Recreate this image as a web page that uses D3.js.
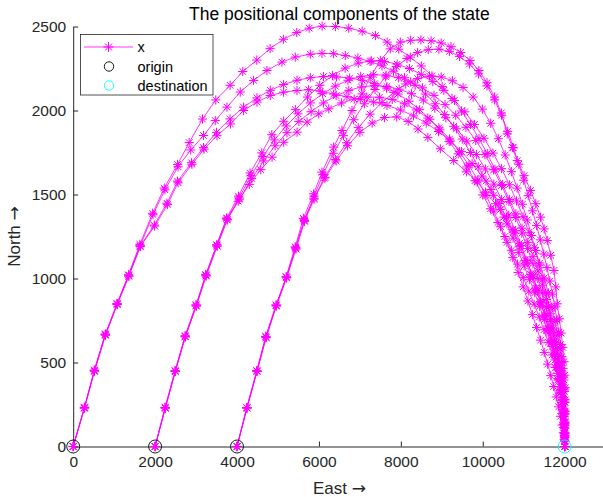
<!DOCTYPE html>
<html>
<head>
<meta charset="utf-8">
<script src="https://cdn.jsdelivr.net/npm/d3@7"></script>
<style>
  body { margin: 0; background: #fff; }
  text { font-family: "Liberation Sans", Arial, sans-serif; }
</style>
</head>
<body>
<script>
// trajectories [east, north]
const trackA1 = [[0,0],[270,230],[519,452],[787,667],[1068,850],[1350,1022],[1628,1203],[1940,1388],[2223,1538],[2548,1679],[2832,1809],[3157,1949],[3481,2063],[3832,2150],[4140,2232],[4483,2300],[4808,2368],[5132,2424],[5458,2464],[5762,2490],[6078,2502],[6403,2500],[6728,2490],[7055,2472],[7380,2446],[7666,2407],[7950,2365],[8230,2318],[8500,2265],[8760,2206],[9010,2142],[9250,2072],[9480,1997],[9700,1917],[9910,1832],[10110,1743],[10300,1650],[10480,1560],[10650,1470],[10810,1385],[10960,1300],[11100,1215],[11230,1130],[11350,1045],[11460,960],[11560,875],[11650,790],[11730,705],[11800,620],[11860,535],[11910,450],[11945,370],[11970,290],[11985,210],[11995,135],[12000,65],[12000,0]];
const trackA2 = [[0,0],[273,228],[522,448],[790,662],[1072,845],[1358,1015],[1635,1195],[1950,1380],[2240,1528],[2560,1665],[2870,1765],[3183,1851],[3469,1940],[3754,2020],[4079,2110],[4404,2179],[4731,2238],[5097,2288],[5423,2318],[5789,2335],[6075,2340],[6359,2338],[6644,2327],[6950,2312],[7250,2292],[7540,2266],[7820,2234],[8090,2195],[8350,2150],[8600,2098],[8840,2040],[9070,1976],[9290,1906],[9500,1830],[9700,1750],[9890,1665],[10080,1580],[10260,1495],[10430,1410],[10590,1325],[10740,1240],[10880,1155],[11010,1075],[11140,995],[11270,915],[11390,835],[11500,755],[11600,675],[11690,595],[11765,515],[11830,435],[11885,355],[11930,275],[11962,200],[11985,130],[11997,65],[12000,0]];
const trackA3 = [[0,0],[277,234],[516,455],[784,670],[1075,850],[1352,1020],[1634,1192],[1980,1318],[2288,1448],[2548,1579],[2889,1689],[3181,1779],[3500,1870],[3830,1950],[4160,2020],[4487,2075],[4812,2120],[5137,2155],[5464,2180],[5790,2195],[6110,2202],[6430,2200],[6750,2193],[7060,2180],[7360,2160],[7650,2133],[7930,2098],[8200,2055],[8460,2005],[8710,1948],[8950,1885],[9180,1816],[9400,1742],[9610,1664],[9810,1582],[10000,1497],[10190,1415],[10370,1333],[10540,1250],[10700,1168],[10850,1086],[10990,1005],[11125,925],[11255,847],[11380,770],[11495,695],[11600,620],[11695,545],[11775,470],[11840,395],[11895,320],[11938,248],[11968,178],[11987,112],[11997,52],[12000,0]];
const trackA4 = [[0,0],[280,231],[514,450],[782,665],[1078,846],[1360,1014],[1640,1190],[1990,1312],[2300,1440],[2560,1570],[2900,1680],[3195,1770],[3510,1850],[3840,1920],[4160,2000],[4487,2050],[4812,2089],[5137,2109],[5464,2119],[5748,2124],[6033,2115],[6359,2098],[6685,2082],[7010,2068],[7336,2050],[7662,2030],[7990,2003],[8310,1968],[8620,1925],[8920,1875],[9210,1818],[9480,1755],[9740,1685],[9980,1610],[10200,1530],[10400,1447],[10580,1362],[10745,1277],[10895,1192],[11035,1108],[11165,1025],[11290,943],[11405,862],[11510,782],[11605,703],[11690,625],[11765,548],[11830,472],[11885,397],[11930,323],[11963,250],[11985,180],[11997,112],[12002,52],[12000,0]];
const trackB1 = [[2000,0],[2245,232],[2490,450],[2735,657],[3002,842],[3238,1021],[3508,1199],[3750,1360],[4035,1490],[4320,1628],[4605,1748],[4850,1856],[5138,1936],[5425,2005],[5720,2080],[6020,2150],[6330,2208],[6640,2252],[6960,2282],[7280,2295],[7600,2292],[7910,2276],[8210,2250],[8500,2215],[8780,2172],[9050,2120],[9310,2060],[9560,1992],[9800,1917],[10030,1835],[10250,1747],[10460,1654],[10650,1558],[10825,1462],[10985,1368],[11130,1275],[11265,1183],[11390,1092],[11500,1003],[11600,915],[11688,830],[11765,745],[11832,662],[11888,580],[11935,500],[11970,420],[11993,342],[12005,265],[12008,192],[12005,125],[12002,62],[12000,0]];
const trackB2 = [[2000,0],[2249,228],[2493,446],[2738,653],[3006,836],[3244,1015],[3512,1193],[3758,1350],[4050,1480],[4340,1612],[4630,1726],[4910,1825],[5200,1908],[5490,1980],[5790,2045],[6090,2100],[6400,2145],[6710,2180],[7020,2203],[7330,2213],[7640,2210],[7940,2195],[8240,2170],[8530,2135],[8810,2090],[9080,2035],[9340,1972],[9590,1900],[9830,1822],[10055,1737],[10265,1647],[10460,1553],[10640,1458],[10805,1363],[10955,1270],[11095,1178],[11225,1088],[11345,1000],[11455,913],[11555,828],[11645,745],[11725,663],[11795,583],[11855,505],[11905,428],[11945,353],[11975,280],[11995,210],[12004,145],[12003,85],[12000,35],[12000,0]];
const trackB3 = [[2000,0],[2244,233],[2489,451],[2733,659],[3001,843],[3236,1023],[3505,1201],[3748,1358],[4060,1472],[4360,1595],[4650,1700],[4930,1790],[5220,1868],[5510,1935],[5810,1993],[6110,2045],[6420,2088],[6730,2120],[7040,2140],[7350,2148],[7660,2143],[7960,2127],[8260,2100],[8550,2062],[8830,2014],[9100,1957],[9360,1891],[9610,1818],[9845,1738],[10065,1652],[10270,1562],[10460,1470],[10635,1377],[10795,1285],[10942,1195],[11078,1107],[11203,1021],[11318,937],[11423,855],[11518,775],[11603,697],[11680,620],[11750,545],[11810,472],[11862,400],[11905,330],[11940,262],[11968,196],[11987,134],[11998,76],[12001,30],[12000,0]];
const trackB4 = [[2000,0],[2250,229],[2494,447],[2739,653],[3007,837],[3245,1016],[3515,1193],[3760,1349],[4030,1460],[4300,1560],[4580,1648],[4856,1722],[5140,1811],[5466,1871],[5711,1931],[5995,1980],[6240,2010],[6550,2045],[6860,2068],[7170,2080],[7480,2079],[7790,2066],[8090,2040],[8380,2003],[8660,1955],[8930,1897],[9190,1830],[9435,1755],[9665,1673],[9880,1586],[10080,1495],[10265,1402],[10435,1308],[10590,1215],[10733,1124],[10865,1036],[10988,950],[11103,866],[11212,785],[11315,708],[11412,633],[11502,560],[11585,490],[11662,422],[11733,357],[11797,295],[11853,236],[11900,180],[11940,128],[11970,82],[11990,42],[12000,0]];
const trackD1 = [[4000,0],[4240,230],[4485,450],[4705,655],[4955,842],[5200,1010],[5420,1188],[5620,1358],[5870,1504],[6075,1633],[6359,1782],[6563,1881],[6808,2000],[7052,2099],[7254,2198],[7499,2298],[7743,2367],[7987,2407],[8240,2418],[8490,2420],[8740,2415],[8985,2402],[9225,2380],[9460,2345],[9690,2298],[9905,2238],[10105,2165],[10290,2080],[10455,1985],[10598,1861],[10725,1780],[10843,1702],[11010,1612],[11168,1524],[11295,1445],[11412,1365],[11500,1295],[11576,1226],[11660,1138],[11739,1048],[11785,950],[11820,849],[11870,760],[11915,675],[11955,590],[11985,505],[12005,425],[12013,350],[12014,278],[12011,210],[12006,145],[12002,80],[12000,30],[12000,0]];
const trackD2 = [[4000,0],[4245,228],[4490,448],[4712,650],[4962,838],[5210,1005],[5435,1180],[5645,1345],[5880,1490],[6100,1620],[6350,1745],[6600,1850],[6850,1945],[7110,2040],[7370,2125],[7630,2200],[7890,2262],[8150,2310],[8410,2345],[8670,2362],[8930,2365],[9185,2352],[9435,2322],[9675,2277],[9900,2218],[10105,2146],[10290,2063],[10458,1972],[10610,1876],[10750,1778],[10880,1680],[11000,1585],[11110,1493],[11215,1403],[11315,1315],[11405,1230],[11490,1146],[11568,1065],[11638,985],[11702,907],[11760,830],[11812,754],[11858,680],[11898,607],[11932,535],[11960,465],[11982,396],[11997,328],[12005,262],[12007,198],[12005,137],[12002,78],[12000,30],[12000,0]];
const trackD3 = [[4000,0],[4238,232],[4483,452],[4700,655],[4955,842],[5205,1010],[5430,1185],[5640,1350],[5880,1478],[6130,1598],[6400,1708],[6680,1808],[6960,1898],[7250,1978],[7540,2048],[7830,2108],[8120,2158],[8410,2190],[8700,2205],[8985,2200],[9260,2177],[9520,2137],[9765,2080],[9990,2008],[10195,1924],[10380,1832],[10548,1735],[10700,1636],[10840,1538],[10968,1442],[11085,1348],[11192,1256],[11290,1167],[11380,1080],[11462,996],[11537,914],[11606,834],[11670,757],[11728,682],[11780,610],[11827,540],[11868,472],[11904,406],[11935,342],[11960,280],[11979,220],[11992,162],[12000,108],[12002,58],[12000,0]];
const trackD4 = [[4000,0],[4243,230],[4488,447],[4710,648],[4960,836],[5210,1004],[5440,1175],[5650,1340],[5880,1472],[6155,1600],[6420,1700],[6700,1790],[7000,1870],[7300,1925],[7600,1958],[7900,1962],[8180,1935],[8420,1890],[8660,1840],[8965,1772],[9290,1702],[9600,1635],[9865,1575],[10068,1514],[10313,1445],[10516,1365],[10720,1290],[10900,1210],[11083,1097],[11230,1010],[11345,930],[11454,855],[11545,780],[11625,705],[11695,630],[11755,555],[11808,480],[11853,405],[11893,332],[11928,262],[11956,195],[11977,132],[11992,75],[12000,30],[12000,0]];

const tracks = [trackA1, trackA2, trackA3, trackA4, trackB1, trackB2, trackB3, trackB4, trackD1, trackD2, trackD3, trackD4];

const originEast = [0, 2000, 4000];
const destinationEast = [12000];
const eastTicks = [0, 2000, 4000, 6000, 8000, 10000, 12000];
const northTicks = [0, 500, 1000, 1500, 2000, 2500];
const legendLabels = ['x', 'origin', 'destination'];

const w = 603;
const h = 497;
const ink = '#262626';
const magenta = '#ff00ff';

const x = d3.scaleLinear().domain([0, 13000]).range([73.2, 605.6]);
const y = d3.scaleLinear().domain([0, 2500]).range([446.5, 26.5]);

const svg = d3.select('body').append('svg')
  .attr('width', w)
  .attr('height', h)
  .style('display', 'block');

// asterisk marker
const star = 'M-4.6,0H4.6M0,-4.6V4.6M-3.3,-3.3L3.3,3.3M-3.3,3.3L3.3,-3.3';

// axes, ticks point inward
svg.append('g')
  .attr('transform', 'translate(0,' + y(0) + ')')
  .call(d3.axisBottom(x).tickValues(eastTicks).tickFormat(d3.format('d'))
    .tickSizeInner(-5).tickSizeOuter(0).tickPadding(9))
  .call(g => g.select('.domain').attr('stroke', ink))
  .call(g => g.selectAll('.tick line').attr('stroke', ink))
  .call(g => g.selectAll('.tick text').attr('fill', ink).style('font-size', '15.5px')
    .style('font-family', '"Liberation Sans", Arial, sans-serif'));

svg.append('g')
  .attr('transform', 'translate(' + x(0) + ',0)')
  .call(d3.axisLeft(y).tickValues(northTicks).tickFormat(d3.format('d'))
    .tickSizeInner(-5).tickSizeOuter(0).tickPadding(7))
  .call(g => g.select('.domain').attr('stroke', ink))
  .call(g => g.selectAll('.tick line').attr('stroke', ink))
  .call(g => g.selectAll('.tick text').attr('fill', ink).style('font-size', '15.5px')
    .style('font-family', '"Liberation Sans", Arial, sans-serif'));

// trajectories
const line = d3.line().x(d => x(d[0])).y(d => y(d[1]));

const trackG = svg.append('g');
tracks.forEach(track => {
  trackG.append('path')
    .attr('d', line(track))
    .attr('fill', 'none')
    .attr('stroke', magenta)
    .attr('stroke-width', 0.8);
  trackG.selectAll(null)
    .data(track)
    .enter()
    .append('path')
    .attr('d', star)
    .attr('transform', d => 'translate(' + x(d[0]) + ',' + y(d[1]) + ')')
    .attr('fill', 'none')
    .attr('stroke', magenta)
    .attr('stroke-width', 1);
});

// origin and destination circles
svg.selectAll('.origin')
  .data(originEast)
  .enter()
  .append('circle')
  .attr('class', 'origin')
  .attr('cx', d => x(d))
  .attr('cy', y(0))
  .attr('r', 6.5)
  .attr('fill', 'none')
  .attr('stroke', '#000')
  .attr('stroke-width', 0.9);

svg.selectAll('.dest')
  .data(destinationEast)
  .enter()
  .append('circle')
  .attr('class', 'dest')
  .attr('cx', d => x(d))
  .attr('cy', y(0))
  .attr('r', 6.5)
  .attr('fill', 'none')
  .attr('stroke', '#00ffff')
  .attr('stroke-width', 0.9);

// title and axis labels
svg.append('text')
  .attr('x', (x.range()[0] + x.range()[1]) / 2)
  .attr('y', 19.5)
  .attr('text-anchor', 'middle')
  .attr('fill', '#000')
  .style('font-size', '17.5px')
  .text('The positional components of the state');

const xLabel = svg.append('text')
  .attr('x', (x.range()[0] + x.range()[1]) / 2)
  .attr('y', 493.5)
  .attr('text-anchor', 'middle')
  .attr('fill', ink)
  .style('font-size', '17px');
xLabel.append('tspan').text('East ');
xLabel.append('tspan').style('font-family', '"DejaVu Sans", sans-serif').text('→');

const yLabel = svg.append('text')
  .attr('transform', 'translate(20,' + (y.range()[0] + y.range()[1]) / 2 + ') rotate(-90)')
  .attr('text-anchor', 'middle')
  .attr('fill', ink)
  .style('font-size', '17px');
yLabel.append('tspan').text('North ');
yLabel.append('tspan').style('font-family', '"DejaVu Sans", sans-serif').text('→');

// legend
const legend = svg.append('g');
legend.append('rect')
  .attr('x', 80.5).attr('y', 34.5)
  .attr('width', 132.5).attr('height', 60.5)
  .attr('fill', '#fff')
  .attr('stroke', ink)
  .attr('stroke-width', 0.8);

const rowY = [47, 66.5, 85.5];
legend.append('line')
  .attr('x1', 84).attr('x2', 133)
  .attr('y1', rowY[0]).attr('y2', rowY[0])
  .attr('stroke', magenta).attr('stroke-width', 0.8);
legend.append('path')
  .attr('d', 'M-5,0H5M0,-5V5M-3.5,-3.5L3.5,3.5M-3.5,3.5L3.5,-3.5')
  .attr('transform', 'translate(108.5,' + rowY[0] + ')')
  .attr('fill', 'none').attr('stroke', magenta).attr('stroke-width', 1);
legend.append('circle')
  .attr('cx', 109).attr('cy', rowY[1]).attr('r', 4.7)
  .attr('fill', 'none').attr('stroke', '#000').attr('stroke-width', 0.9);
legend.append('circle')
  .attr('cx', 109).attr('cy', rowY[2]).attr('r', 4.7)
  .attr('fill', 'none').attr('stroke', '#00ffff').attr('stroke-width', 0.9);

legend.selectAll('.label')
  .data(legendLabels)
  .enter()
  .append('text')
  .attr('class', 'label')
  .attr('x', 137.5)
  .attr('y', (d, i) => rowY[i])
  .attr('dy', '0.35em')
  .attr('fill', '#000')
  .style('font-size', '14.5px')
  .text(d => d);
</script>
</body>
</html>
